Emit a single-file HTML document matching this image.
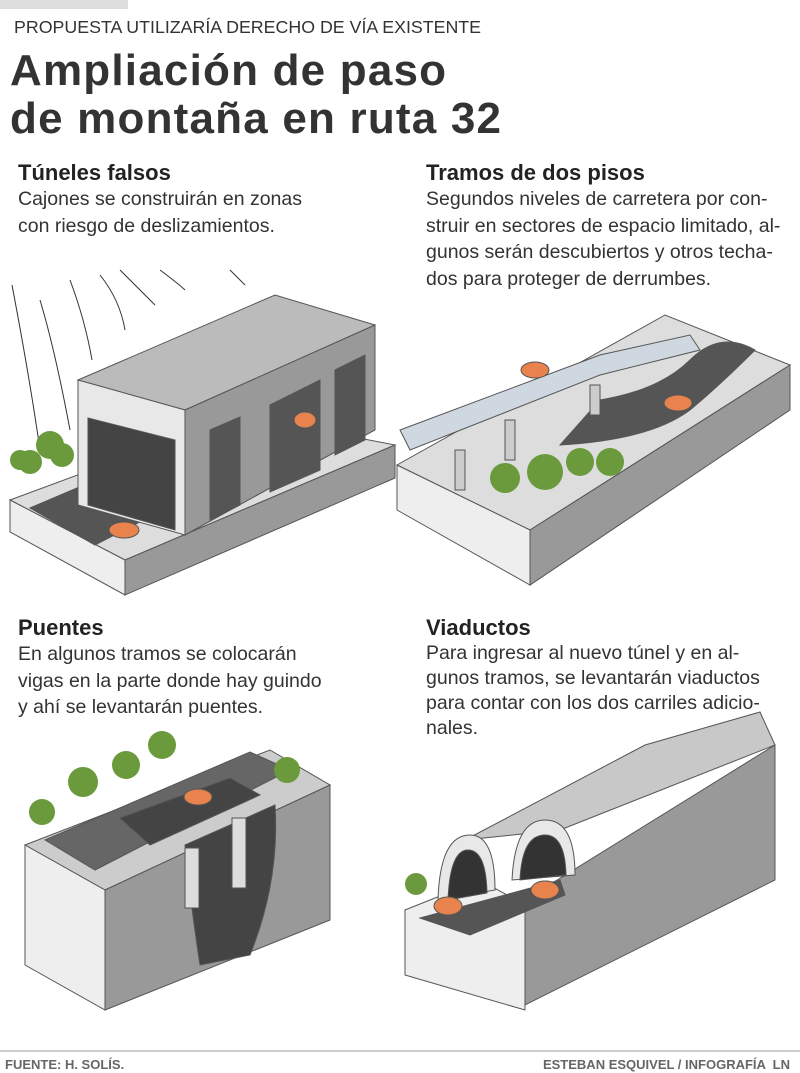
<!DOCTYPE html>
<html><head><meta charset="utf-8"><style>
body{margin:0;width:800px;height:1073px;background:#fff;position:relative;overflow:hidden;font-family:"Liberation Sans",sans-serif;color:#222}
.t{position:absolute;white-space:nowrap}
.sub{font-size:17.8px;color:#333}
.h1{font-size:44px;font-weight:bold;color:#333;line-height:48px;letter-spacing:1.2px}
.h2{font-size:22px;font-weight:bold;color:#222}
.p{font-size:19.5px;line-height:26.5px;color:#333}
.f{font-size:13px;font-weight:bold;color:#666}
svg{position:absolute;left:0;top:0}
</style></head><body>
<div style="position:absolute;left:0;top:0;width:128px;height:9px;background:#ddd"></div>
<svg width="800" height="1073">
<g stroke="#555" stroke-width="1">
<polygon points="10,500 240,415 395,445 125,560" fill="#ddd"/>
<polygon points="10,500 125,560 125,595 10,532" fill="#eee"/>
<polygon points="125,560 395,445 395,478 125,595" fill="#999"/>
<polygon points="30,508 190,440 260,460 95,545" fill="#555"/>
<polygon points="78,380 275,295 375,325 185,410" fill="#bbb"/>
<polygon points="78,380 185,410 185,535 78,505" fill="#e8e8e8"/>
<polygon points="88,418 175,440 175,530 88,505" fill="#444"/>
<polygon points="185,410 375,325 375,430 185,535" fill="#999"/>
<polygon points="210,430 240,417 240,505 210,520" fill="#555"/>
<polygon points="270,405 320,380 320,470 270,492" fill="#555"/>
<polygon points="335,370 365,355 365,440 335,455" fill="#555"/>
<ellipse cx="124" cy="530" rx="15" ry="8" fill="#e8834e"/>
<ellipse cx="305" cy="420" rx="11" ry="8" fill="#e8834e"/>
</g>
<g stroke="#333" fill="none" stroke-width="1">
<path d="M12 285 Q30 380 40 450"/><path d="M40 300 Q55 350 70 430"/><path d="M70 280 Q85 320 92 360"/><path d="M100 275 Q120 300 125 330"/><path d="M120 270 Q140 290 155 305"/><path d="M160 270 Q180 285 185 290"/><path d="M230 270 L245 285"/>
</g>
<g fill="#6a9a3c"><circle cx="30" cy="462" r="12"/><circle cx="50" cy="445" r="14"/><circle cx="62" cy="455" r="12"/><circle cx="20" cy="460" r="10"/></g>
<g stroke="#555" stroke-width="1">
<polygon points="397,465 665,315 790,365 530,530" fill="#ddd"/>
<polygon points="397,465 530,530 530,585 397,510" fill="#eee"/>
<polygon points="530,530 790,365 790,410 530,585" fill="#999"/>
<path d="M600 400 Q660 390 690 360 Q720 330 755 350 Q720 385 690 410 Q650 440 560 445 Z" fill="#555"/>
<polygon points="400,430 600,355 690,335 700,350 600,375 410,450" fill="#cfd8e0"/>
<rect x="455" y="450" width="10" height="40" fill="#ccc"/><rect x="505" y="420" width="10" height="40" fill="#ccc"/><rect x="590" y="385" width="10" height="30" fill="#ccc"/>
<ellipse cx="535" cy="370" rx="14" ry="8" fill="#e8834e"/><ellipse cx="678" cy="403" rx="14" ry="8" fill="#e8834e"/>
</g>
<g fill="#6a9a3c"><circle cx="505" cy="478" r="15"/><circle cx="545" cy="472" r="18"/><circle cx="580" cy="462" r="14"/><circle cx="610" cy="462" r="14"/></g>
<g stroke="#555" stroke-width="1">
<polygon points="25,845 270,750 330,785 105,890" fill="#ccc"/>
<polygon points="25,845 105,890 105,1010 25,965" fill="#eee"/>
<polygon points="105,890 330,785 330,920 105,1010" fill="#999"/>
<polygon points="45,840 250,752 290,770 95,870" fill="#666"/>
<polygon points="120,818 230,778 260,795 150,845" fill="#444"/>
<path d="M185 845 L275 805 Q280 880 250 955 L200 965 Q190 900 185 845Z" fill="#444"/>
<rect x="185" y="848" width="14" height="60" fill="#ddd"/><rect x="232" y="818" width="14" height="70" fill="#ddd"/>
<ellipse cx="198" cy="797" rx="14" ry="8" fill="#e8834e"/>
</g>
<g fill="#6a9a3c"><circle cx="42" cy="812" r="13"/><circle cx="83" cy="782" r="15"/><circle cx="126" cy="765" r="14"/><circle cx="162" cy="745" r="14"/><circle cx="287" cy="770" r="13"/></g>
<g stroke="#555" stroke-width="1">
<polygon points="405,910 480,880 525,905 525,1010 405,975" fill="#eee"/>
<polygon points="465,840 645,745 760,712 775,745 560,830" fill="#c8c8c8"/>
<polygon points="525,900 775,745 775,880 525,1005" fill="#999"/>
<path d="M438 900 Q440 835 470 835 Q495 835 495 890 Z" fill="#e8e8e8"/>
<path d="M512 880 Q515 820 545 820 Q575 820 575 875 Z" fill="#e8e8e8"/>
<path d="M448 900 Q450 850 468 850 Q486 850 487 893 Z" fill="#333"/>
<path d="M520 880 Q522 835 545 835 Q565 835 566 875 Z" fill="#333"/>
<polygon points="420,918 560,880 565,895 470,935" fill="#555"/>
<ellipse cx="448" cy="906" rx="14" ry="9" fill="#e8834e"/><ellipse cx="545" cy="890" rx="14" ry="9" fill="#e8834e"/>
</g>
<circle cx="416" cy="884" r="11" fill="#6a9a3c"/>
<line x1="0" y1="1051" x2="800" y2="1051" stroke="#999"/>
</svg>
<div class="t sub" style="left:14px;top:17px">PROPUESTA UTILIZARÍA DERECHO DE VÍA EXISTENTE</div>
<div class="t h1" style="left:10px;top:47px">Ampliación de paso<br>de montaña en ruta 32</div>
<div class="t h2" style="left:18px;top:160px">Túneles falsos</div>
<div class="t p" style="left:18px;top:186px">Cajones se construirán en zonas<br>con riesgo de deslizamientos.</div>
<div class="t h2" style="left:426px;top:160px">Tramos de dos pisos</div>
<div class="t p" style="left:426px;top:186px">Segundos niveles de carretera por con-<br>struir en sectores de espacio limitado, al-<br>gunos serán descubiertos y otros techa-<br>dos para proteger de derrumbes.</div>
<div class="t h2" style="left:18px;top:615px">Puentes</div>
<div class="t p" style="left:18px;top:641px">En algunos tramos se colocarán<br>vigas en la parte donde hay guindo<br>y ahí se levantarán puentes.</div>
<div class="t h2" style="left:426px;top:615px">Viaductos</div>
<div class="t p" style="left:426px;top:641px;line-height:25px">Para ingresar al nuevo túnel y en al-<br>gunos tramos, se levantarán viaductos<br>para contar con los dos carriles adicio-<br>nales.</div>
<div class="t f" style="left:5px;top:1057px">FUENTE: H. SOLÍS.</div>
<div class="t f" style="right:10px;top:1057px">ESTEBAN ESQUIVEL / INFOGRAFÍA &nbsp;LN</div>
</body></html>
